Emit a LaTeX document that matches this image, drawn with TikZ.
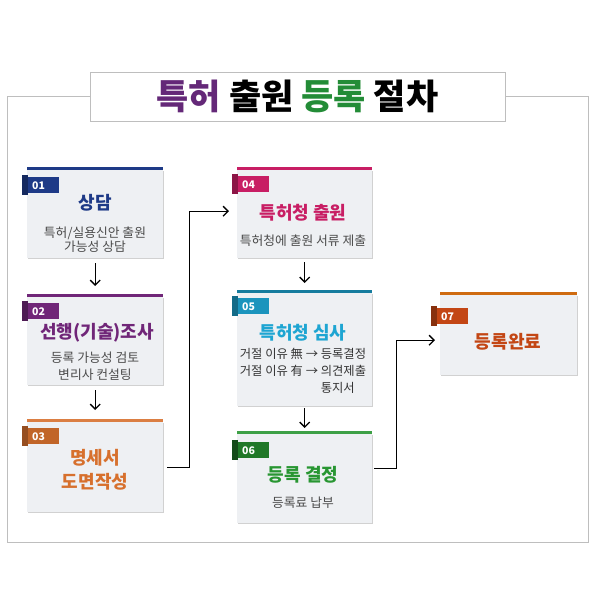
\documentclass[tikz,border=0pt]{standalone}
\usepackage{fontspec}
\setmainfont{Noto Sans CJK KR}
\usetikzlibrary{positioning, calc, arrows.meta, shadows}
\definecolor{framegray}{RGB}{190, 190, 190}
\definecolor{cardgray}{RGB}{238, 240, 243}
\definecolor{textgray}{RGB}{75, 75, 75}
\definecolor{titlepurple}{RGB}{100, 40, 120}
\definecolor{titlegreen}{RGB}{35, 140, 55}
\definecolor{consultnavy}{RGB}{30, 58, 135}
\definecolor{searchpurple}{RGB}{112, 38, 120}
\definecolor{specorange}{RGB}{215, 112, 45}
\definecolor{filemagenta}{RGB}{200, 30, 100}
\definecolor{examcyan}{RGB}{30, 165, 210}
\definecolor{decidegreen}{RGB}{40, 150, 50}
\definecolor{doneorange}{RGB}{195, 70, 20}

\begin{document}
\begin{tikzpicture}[x=1pt, y=1pt,
  card/.style={fill=cardgray, anchor=north west, minimum width=136pt, inner sep=0pt,
    drop shadow={shadow xshift=1pt, shadow yshift=-1.2pt, fill=black, opacity=0.18}},
  bar/.style={line width=3pt},
  badge/.style={anchor=north west, minimum width=34pt, minimum height=16pt, inner sep=0pt,
    text width=20pt, align=left, text=white, font=\bfseries\fontsize{10.5}{12}\selectfont},
  cardtitle/.style={font=\bfseries\fontsize{18}{24}\selectfont, align=center},
  cardtext/.style={font=\fontsize{12.8}{14}\selectfont, text=textgray, align=center},
  flow/.style={-{Straight Barb[length=5pt, width=10pt]}, line width=1.3pt}]
  \useasboundingbox (0,0) rectangle (600,-600);

  % Frame and title
  \draw[framegray, line width=0.8pt] (7,-96) rectangle (588,-542);
  \node[draw=framegray, line width=1pt, fill=white, minimum width=415pt, minimum height=49pt,
    font=\bfseries\fontsize{35}{40}\selectfont] (title) at (297.5,-96.5)
    {{\color{titlepurple}특허} 출원 {\color{titlegreen}등록} 절차};

  % 01
  \node[card, minimum height=88pt] (card01) at (27,-170) {};
  \draw[bar, consultnavy] ($(card01.north west)+(0,2)$) -- ($(card01.north east)+(0,2)$);
  \node[badge, fill=consultnavy] (badge01) at ($(card01.north west)+(-2,-7)$) {01};
  \fill[consultnavy!70!black] ($(badge01.north west)+(-3,2)$) rectangle ($(badge01.south west)+(3,-2)$);
  \node[cardtitle, consultnavy] at (95,-203) {상담};
  \node[cardtext] at (95,-240) {특허/실용신안 출원\\가능성 상담};

  % 02
  \node[card, minimum height=88pt] (card02) at (27,-297) {};
  \draw[bar, searchpurple] ($(card02.north west)+(0,2)$) -- ($(card02.north east)+(0,2)$);
  \node[badge, fill=searchpurple] (badge02) at ($(card02.north west)+(-2,-6)$) {02};
  \fill[searchpurple!70!black] ($(badge02.north west)+(-3,2)$) rectangle ($(badge02.south west)+(3,-2)$);
  \node[cardtitle, searchpurple] at (97,-333) {선행(기술)조사};
  \node[cardtext, font=\fontsize{12.8}{17}\selectfont] at (95,-366.5) {등록 가능성 검토\\변리사 컨설팅};

  % 03
  \node[card, minimum height=90pt] (card03) at (27,-422) {};
  \draw[bar, specorange!90!white] ($(card03.north west)+(0,2)$) -- ($(card03.north east)+(0,2)$);
  \node[badge, fill=specorange!90!black] (badge03) at ($(card03.north west)+(-2,-6)$) {03};
  \fill[specorange!70!black] ($(badge03.north west)+(-3,2)$) rectangle ($(badge03.south west)+(3,-2)$);
  \node[cardtitle, specorange] at (95,-470) {명세서\\도면작성};

  % 04
  \node[card, minimum height=88pt, minimum width=135pt] (card04) at (237,-170) {};
  \draw[bar, filemagenta] ($(card04.north west)+(0,2)$) -- ($(card04.north east)+(0,2)$);
  \node[badge, fill=filemagenta] (badge04) at ($(card04.north west)+(-2,-6)$) {04};
  \fill[filemagenta!70!black] ($(badge04.north west)+(-3,2)$) rectangle ($(badge04.south west)+(3,-2)$);
  \node[cardtitle, filemagenta] at (303,-213) {특허청 출원};
  \node[cardtext] at (303,-241) {특허청에 출원 서류 제출};

  % 05
  \node[card, minimum height=113pt, minimum width=135pt] (card05) at (237,-293) {};
  \draw[bar, examcyan!75!black] ($(card05.north west)+(0,2)$) -- ($(card05.north east)+(0,2)$);
  \node[badge, fill=examcyan!90!black] (badge05) at ($(card05.north west)+(-2,-5)$) {05};
  \fill[examcyan!65!black] ($(badge05.north west)+(-3,2)$) rectangle ($(badge05.south west)+(3,-2)$);
  \node[cardtitle, examcyan] at (303,-333) {특허청 심사};
  \node[cardtext, align=left, text=black!80, font=\fontsize{12.3}{17}\selectfont] at (303,-371)
    {거절 이유 無 → 등록결정\\거절 이유 有 → 의견제출\\\hphantom{거절 이유 有 → }통지서};

  % 06
  \node[card, minimum height=89pt, minimum width=135pt] (card06) at (237,-434) {};
  \draw[bar, decidegreen!90!white] ($(card06.north west)+(0,2)$) -- ($(card06.north east)+(0,2)$);
  \node[badge, fill=decidegreen!80!black] (badge06) at ($(card06.north west)+(-2,-8)$) {06};
  \fill[decidegreen!50!black] ($(badge06.north west)+(-3,2)$) rectangle ($(badge06.south west)+(3,-2)$);
  \node[cardtitle, decidegreen] at (303,-475) {등록 결정};
  \node[cardtext] at (303,-503) {등록료 납부};

  % 07
  \node[card, minimum height=80pt, minimum width=137pt] (card07) at (440,-295) {};
  \draw[bar, doneorange!80!yellow] ($(card07.north west)+(0,2)$) -- ($(card07.north east)+(0,2)$);
  \node[badge, fill=doneorange] (badge07) at ($(card07.north west)+(-6,-13)$) {07};
  \fill[doneorange!70!black] ($(badge07.north west)+(-3,2)$) rectangle ($(badge07.south west)+(3,-2)$);
  \node[cardtitle, doneorange] at (508,-342) {등록완료};

  % Connectors
  \draw[flow, shorten <=5pt, shorten >=11pt] (card01.south) -- (card02.north);
  \draw[flow, shorten <=5pt, shorten >=12pt] (card02.south) -- (card03.north);
  \draw[flow, shorten <=4pt, shorten >=10pt] (card04.south) -- (card05.north);
  \draw[flow, shorten <=2pt, shorten >=6pt] (card05.south) -- (card06.north);
  \draw[flow, shorten <=4pt, shorten >=8pt] (card03.east) -- ++(26,0) |- ($(card04.west)+(0,3)$);
  \draw[flow, shorten <=2pt, shorten >=5pt] ($(card06.east)+(0,10)$) -- ++(24,0) |- ($(card07.west)+(0,-5)$);
\end{tikzpicture}
\end{document}
